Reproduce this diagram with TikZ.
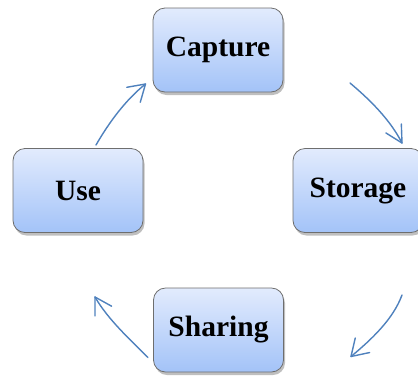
\documentclass[tikz,border=0pt]{standalone}
\usepackage{fontspec}
\setmainfont{Liberation Serif}
\usetikzlibrary{shadows}
\definecolor{boxtop}{RGB}{226,235,253}
\definecolor{boxbot}{RGB}{163,195,248}
\definecolor{boxline}{RGB}{110,110,110}
\definecolor{arrowblue}{RGB}{79,129,189}
\tikzset{
  stagebox/.style={draw=boxline, line width=0.8pt, rounded corners=12pt,
    minimum width=130pt, minimum height=84pt, top color=boxtop, bottom color=boxbot,
    drop shadow={shadow xshift=1.5pt, shadow yshift=-3pt, opacity=0.5},
    font=\fontsize{29.5}{31}\selectfont\bfseries, inner sep=0pt},
  cyclearrow/.style={draw=arrowblue, line width=1.4pt, line cap=round, line join=round}
}
\begin{document}
\begin{tikzpicture}[x=1pt,y=-1pt]
\useasboundingbox (0,0) rectangle (418,376);
\node[stagebox] (capture) at (218,50) {Capture};
\node[stagebox] (storage) at (358,190.5) {Storage};
\node[stagebox] (use) at (78,190.5) {Use};
\node[stagebox] (sharing) at (218.5,330) {Sharing};
% connector ends
\coordinate (u1) at (96,145);
\coordinate (c0) at (145.5,84);
\coordinate (c1) at (350,83);
\coordinate (s0) at (402,143);
\coordinate (s1) at (402,295);
\coordinate (h0) at (351,356.5);
\coordinate (h1) at (148,357.5);
\coordinate (u0) at (95,297);
% Use -> Capture
\draw[cyclearrow] (u1) .. controls (109,122.5) and (125.5,100) .. (c0);
\draw[cyclearrow] (c0) ++(170:19) -- (c0) -- +(106:19);
% Capture -> Storage
\draw[cyclearrow] (c1) .. controls (369.9,99.7) and (390.2,119.8) .. (s0);
\draw[cyclearrow] (s0) ++(212:19) -- (s0) -- +(268:19);
% Storage -> Sharing
\draw[cyclearrow] (s1) .. controls (393.1,319.4) and (370.9,340) .. (h0);
\draw[cyclearrow] (h0) ++(-77:19) -- (h0) -- +(-12:19);
% Sharing -> Use
\draw[cyclearrow] (h1) .. controls (129.6,339.1) and (108,319.5) .. (u0);
\draw[cyclearrow] (u0) ++(90:19) -- (u0) -- +(29:19);
\end{tikzpicture}
\end{document}
